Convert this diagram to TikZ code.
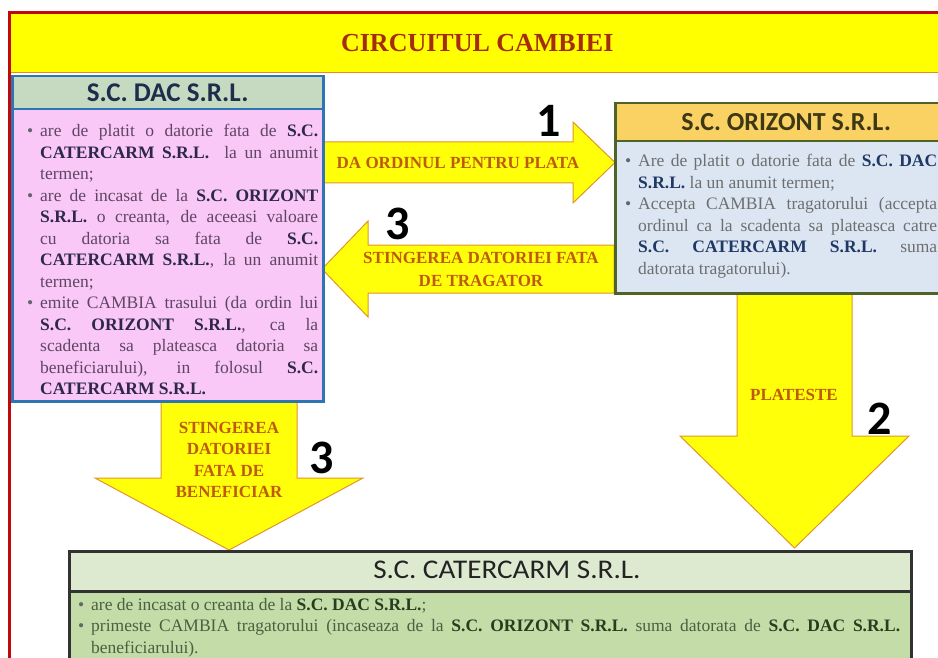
\documentclass[tikz,border=0pt]{standalone}
\usepackage{fontspec}
\setmainfont{Liberation Serif}
\newfontfamily\hdrfont{Carlito}
\newfontfamily\hdrwide[FakeStretch=1.08]{Carlito}

% palette
\definecolor{framered}{RGB}{192,10,10}
\definecolor{baryellow}{RGB}{255,255,0}
\definecolor{barline}{RGB}{230,140,30}
\definecolor{titletxt}{RGB}{165,45,15}
\definecolor{arrowfill}{RGB}{255,255,10}
\definecolor{arrowline}{RGB}{225,150,40}
\definecolor{arrowtxt}{RGB}{190,90,10}
\definecolor{dachd}{RGB}{198,218,194}
\definecolor{dacbg}{RGB}{249,200,246}
\definecolor{dacline}{RGB}{46,117,182}
\definecolor{dachdtxt}{RGB}{30,45,75}
\definecolor{dactxt}{RGB}{95,70,100}
\definecolor{dacbold}{RGB}{45,40,75}
\definecolor{orzhd}{RGB}{250,210,100}
\definecolor{orzbg}{RGB}{220,230,242}
\definecolor{orzline}{RGB}{79,98,40}
\definecolor{orzhdtxt}{RGB}{60,55,20}
\definecolor{orztxt}{RGB}{110,110,110}
\definecolor{orzbold}{RGB}{31,56,100}
\definecolor{cathd}{RGB}{222,234,208}
\definecolor{catbg}{RGB}{196,220,168}
\definecolor{catline}{RGB}{50,50,50}
\definecolor{cathdtxt}{RGB}{35,35,35}
\definecolor{cattxt}{RGB}{75,95,65}
\definecolor{catbold}{RGB}{40,60,30}
\definecolor{bulc}{RGB}{100,100,110}

% bullet items with hanging indent
\newcommand\bul{\makebox[13pt][l]{\textcolor{bulc}{\textbullet}}}
\newcommand\firstitm{\hyphenpenalty=10000 \exhyphenpenalty=10000 \hangindent=13pt \hangafter=1 \bul}
\newcommand\itm{\par\noindent\firstitm}
\colorlet{bcol}{black}
\newcommand\B[1]{\textbf{\textcolor{bcol}{#1}}}

\tikzset{
  boxpart/.style={anchor=north west, inner sep=0pt, line width=2.5pt},
  headtxt/.style={boxpart, font=\hdrfont\bfseries\fontsize{26}{30}\selectfont},
  bodytxt/.style={anchor=base west, inner sep=0pt, align=justify,
    font=\fontsize{17.5}{21.5}\selectfont},
  blockarrow/.style={fill=arrowfill, draw=arrowline, line width=1pt, line join=miter},
  arrowlabel/.style={inner sep=0pt, align=center, text=arrowtxt,
    font=\bfseries\fontsize{17}{23}\selectfont},
  stepno/.style={inner sep=0pt, font=\hdrfont\bfseries\fontsize{48}{48}\selectfont}
}

\begin{document}
\begin{tikzpicture}[x=1pt,y=-1pt]
\useasboundingbox (0,0) rectangle (938,658);
\clip (0,0) rectangle (938,658);
\fill[white] (0,0) rectangle (938,658);

% title bar
\node[boxpart, line width=1.5pt, fill=baryellow, draw=barline,
      minimum width=935, minimum height=60,
      text=titletxt, font=\bfseries\fontsize{26}{30}\selectfont] (title) at (9,12) {CIRCUITUL CAMBIEI};

% block arrows
\path[blockarrow] (322,142) -- (573,142) -- (573,122) -- (615,162.5)
  -- (573,203) -- (573,183) -- (322,183) -- cycle;
\path[blockarrow] (614,245) -- (368,245) -- (368,221) -- (322,269)
  -- (368,317) -- (368,293) -- (614,293) -- cycle;
\path[blockarrow] (737,292) -- (737,436) -- (680,436) -- (794.5,548)
  -- (909,436) -- (852,436) -- (852,292) -- cycle;
\path[blockarrow] (161,400) -- (161,478) -- (95,478) -- (229,550)
  -- (363,478) -- (297,478) -- (297,400) -- cycle;

% arrow captions
\node[arrowlabel] (lblorder) at (458,163) {DA ORDINUL PENTRU PLATA};
\node[arrowlabel] (lbldrawer) at (481,269) {STINGEREA DATORIEI FATA\\DE TRAGATOR};
\node[arrowlabel] (lblpay) at (794,395) {PLATESTE};
\node[arrowlabel, font=\bfseries\fontsize{17}{21.3}\selectfont] (lblbenef) at (229,460)
  {STINGEREA\\DATORIEI\\FATA DE\\BENEFICIAR};

% step numbers
\node[stepno] (n1) at (549,121) {1};
\node[stepno] (n3a) at (398,224) {3};
\node[stepno] (n3b) at (322,458) {3};
\node[stepno] (n2) at (880,419) {2};

% S.C. DAC S.R.L.
\node[boxpart, fill=dacbg, draw=dacline, minimum width=311, minimum height=292] (dacbox) at (11,108) {};
\node[headtxt, fill=dachd, draw=dacline, minimum width=311, minimum height=33, text=dachdtxt,
      font=\hdrfont\bfseries\fontsize{27}{30}\selectfont] (dachead) at (11,75) {S.C. DAC S.R.L.};
\node[bodytxt, text width=291pt, text=dactxt] (dactext) at (27,137) {\colorlet{bcol}{dacbold}%
\firstitm are de platit o datorie fata de \B{S.C.}\linebreak \B{CATERCARM S.R.L.}\ \ la un anumit\linebreak termen;
\itm are de incasat de la \B{S.C. ORIZONT}\linebreak \B{S.R.L.} o creanta, de aceeasi valoare\linebreak cu datoria sa fata de \B{S.C.}\linebreak \B{CATERCARM S.R.L.}, la un anumit\linebreak termen;
\itm emite CAMBIA trasului (da ordin lui\linebreak \B{S.C. ORIZONT S.R.L.}, ca la\linebreak scadenta sa plateasca datoria sa\linebreak beneficiarului), in folosul \B{S.C.}\linebreak \B{CATERCARM S.R.L.}\par};

% S.C. ORIZONT S.R.L.
\node[boxpart, fill=orzbg, draw=orzline, minimum width=342, minimum height=152] (orzbox) at (614,140) {};
\node[headtxt, fill=orzhd, draw=orzline, minimum width=342, minimum height=38, text=orzhdtxt]
  (orzhead) at (614,102) {S.C. ORIZONT S.R.L.};
\node[bodytxt, text width=312pt, text=orztxt] (orztext) at (625,167) {\colorlet{bcol}{orzbold}%
\firstitm Are de platit o datorie fata de \B{S.C. DAC}\linebreak \B{S.R.L.} la un anumit termen;
\itm Accepta CAMBIA tragatorului (accepta\linebreak ordinul ca la scadenta sa plateasca catre\linebreak \B{S.C. CATERCARM S.R.L.} suma\linebreak datorata tragatorului).\par};

% S.C. CATERCARM S.R.L.
\node[boxpart, fill=catbg, draw=catline, minimum width=842, minimum height=100] (catbox) at (68,590) {};
\node[boxpart, fill=cathd, draw=catline, minimum width=842, minimum height=40] (cathead) at (68,550) {};
\node[inner sep=0pt, text=cathdtxt, font=\hdrwide\fontsize{27}{30}\selectfont]
  (cathdtext) at (507,570) {S.C. CATERCARM S.R.L.};
\node[bodytxt, text width=822pt, text=cattxt] (cattext) at (78,610) {\colorlet{bcol}{catbold}%
\firstitm are de incasat o creanta de la \B{S.C. DAC S.R.L.};
\itm primeste CAMBIA tragatorului (incaseaza de la \B{S.C. ORIZONT S.R.L.} suma datorata de \B{S.C. DAC S.R.L.}\linebreak beneficiarului).\par};

% outer frame
\draw[framered, line width=3pt] (9.5,670) -- (9.5,12.5) -- (950,12.5);
\end{tikzpicture}
\end{document}
